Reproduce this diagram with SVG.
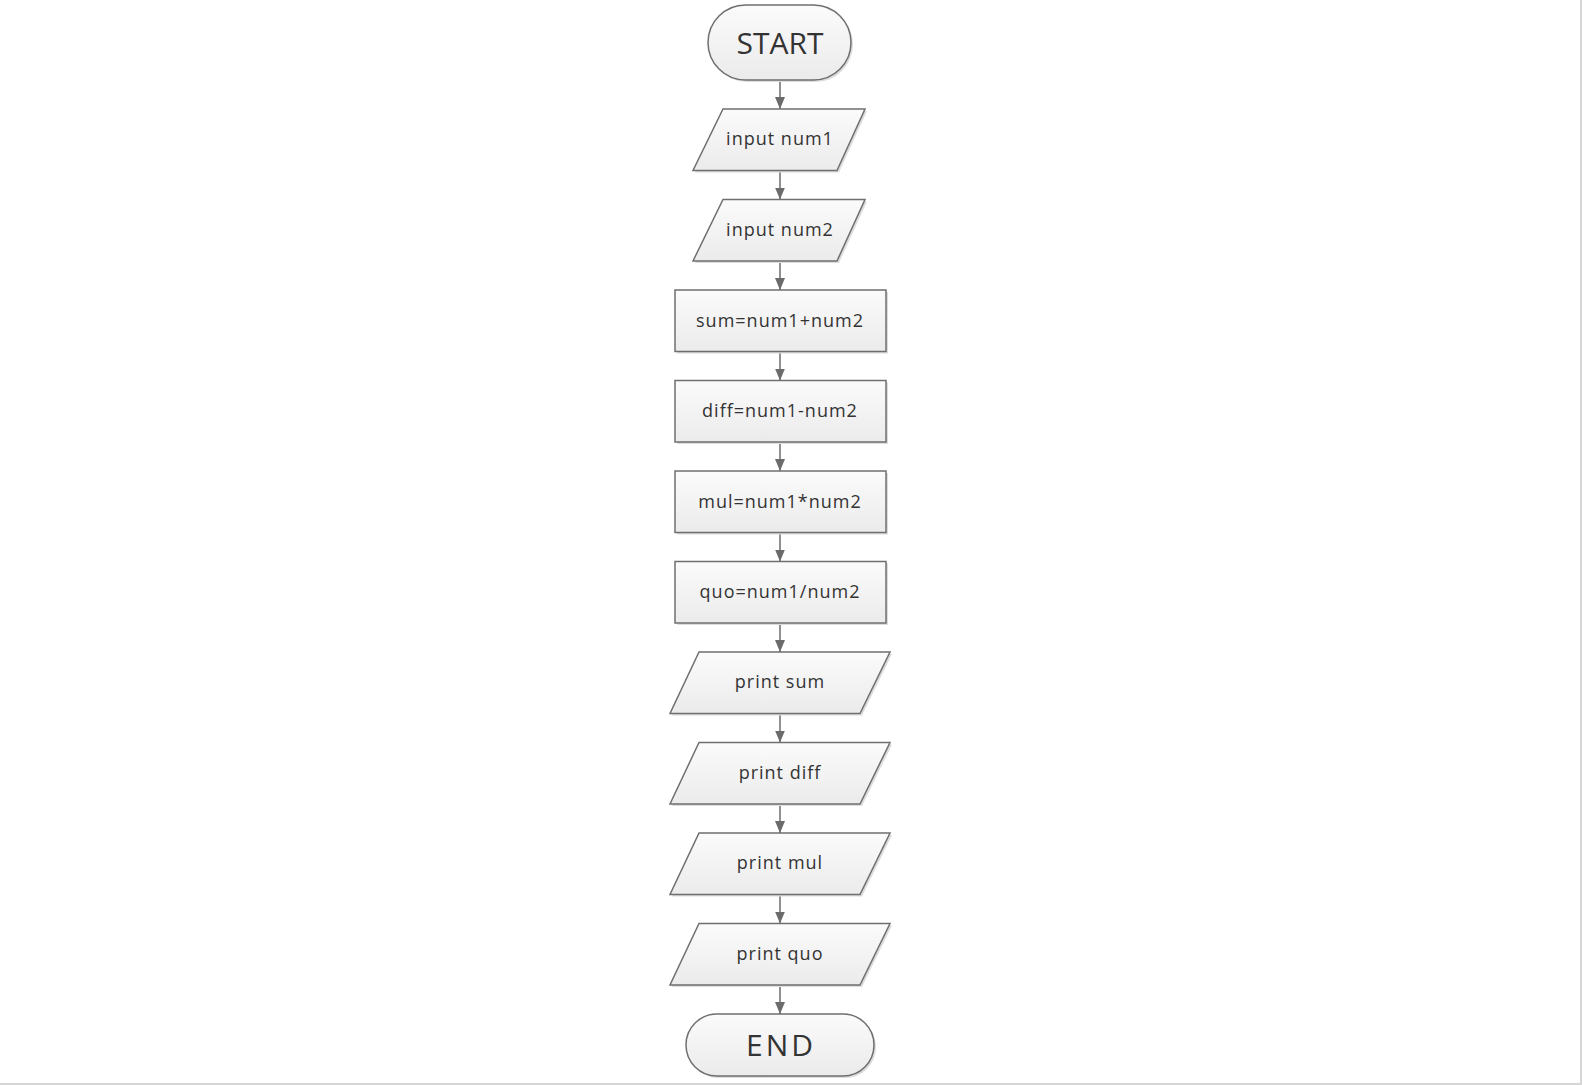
<svg xmlns="http://www.w3.org/2000/svg" width="1582" height="1085" viewBox="0 0 1582 1085">
<defs>
<linearGradient id="g" x1="0" y1="0" x2="0" y2="1">
<stop offset="0" stop-color="#fbfbfb"/>
<stop offset="1" stop-color="#ebebeb"/>
</linearGradient>
<marker id="ah" viewBox="0 0 12 10" refX="12" refY="5" markerWidth="12" markerHeight="10" markerUnits="userSpaceOnUse" orient="auto">
<path d="M0,0 L12,5 L0,10 z" fill="#6b6b6b"/>
</marker>
</defs>
<style>
.s{fill:url(#g);stroke:#6f6f6f;stroke-width:1.5}
.sh{fill:#dcdcdc;stroke:none}
.t{font-family:"Open Sans","DejaVu Sans",sans-serif;font-size:18px;letter-spacing:1px;fill:#333;text-anchor:middle;dominant-baseline:central}
.tb{font-family:"Open Sans","DejaVu Sans",sans-serif;font-size:30px;fill:#333;text-anchor:middle;dominant-baseline:central}
.c{stroke:#6b6b6b;stroke-width:1.5;fill:none;marker-end:url(#ah)}
</style>
<rect x="0" y="0" width="1581" height="1084" fill="#fff"/>
<path d="M1581,0 V1084 H0" fill="none" stroke="#d6d6d6" stroke-width="2"/>
<g id="connectors">
<line class="c" x1="780" y1="80" x2="780" y2="109"/>
<line class="c" x1="780" y1="170.5" x2="780" y2="199.5"/>
<line class="c" x1="780" y1="261" x2="780" y2="290"/>
<line class="c" x1="780" y1="351.5" x2="780" y2="380.5"/>
<line class="c" x1="780" y1="442" x2="780" y2="471"/>
<line class="c" x1="780" y1="532.5" x2="780" y2="561.5"/>
<line class="c" x1="780" y1="623" x2="780" y2="652"/>
<line class="c" x1="780" y1="713.5" x2="780" y2="742.5"/>
<line class="c" x1="780" y1="804" x2="780" y2="833"/>
<line class="c" x1="780" y1="894.5" x2="780" y2="923.5"/>
<line class="c" x1="780" y1="985" x2="780" y2="1014"/>
</g>
<g id="start">
<rect class="sh" x="710" y="7" width="143" height="75" rx="37.5"/>
<rect class="s" x="708" y="5" width="143" height="75" rx="37.5"/>
<text class="tb" x="780" y="42">START</text>
</g>
<g id="input1">
<polygon class="sh" points="725,111 867,111 839,172.5 695,172.5"/>
<polygon class="s" points="723,109 865,109 837,170.5 693,170.5"/>
<text class="t" x="780" y="138">input num1</text>
</g>
<g id="input2">
<polygon class="sh" points="725,201.5 867,201.5 839,263 695,263"/>
<polygon class="s" points="723,199.5 865,199.5 837,261 693,261"/>
<text class="t" x="780" y="229">input num2</text>
</g>
<g id="sum">
<rect class="sh" x="677" y="292" width="211" height="61.5"/>
<rect class="s" x="675" y="290" width="211" height="61.5"/>
<text class="t" x="780" y="320">sum=num1+num2</text>
</g>
<g id="diff">
<rect class="sh" x="677" y="382.5" width="211" height="61.5"/>
<rect class="s" x="675" y="380.5" width="211" height="61.5"/>
<text class="t" x="780" y="410">diff=num1-num2</text>
</g>
<g id="mul">
<rect class="sh" x="677" y="473" width="211" height="61.5"/>
<rect class="s" x="675" y="471" width="211" height="61.5"/>
<text class="t" x="780" y="501">mul=num1*num2</text>
</g>
<g id="quo">
<rect class="sh" x="677" y="563.5" width="211" height="61.5"/>
<rect class="s" x="675" y="561.5" width="211" height="61.5"/>
<text class="t" x="780" y="591">quo=num1/num2</text>
</g>
<g id="psum">
<polygon class="sh" points="701,654 892,654 862,715.5 672,715.5"/>
<polygon class="s" points="699,652 890,652 860,713.5 670,713.5"/>
<text class="t" x="780" y="681">print sum</text>
</g>
<g id="pdiff">
<polygon class="sh" points="701,744.5 892,744.5 862,806 672,806"/>
<polygon class="s" points="699,742.5 890,742.5 860,804 670,804"/>
<text class="t" x="780" y="772">print diff</text>
</g>
<g id="pmul">
<polygon class="sh" points="701,835 892,835 862,896.5 672,896.5"/>
<polygon class="s" points="699,833 890,833 860,894.5 670,894.5"/>
<text class="t" x="780" y="862">print mul</text>
</g>
<g id="pquo">
<polygon class="sh" points="701,925.5 892,925.5 862,987 672,987"/>
<polygon class="s" points="699,923.5 890,923.5 860,985 670,985"/>
<text class="t" x="780" y="953">print quo</text>
</g>
<g id="end">
<rect class="sh" x="688" y="1016" width="188" height="62" rx="31"/>
<rect class="s" x="686" y="1014" width="188" height="62" rx="31"/>
<text class="tb" x="781" y="1044" style="letter-spacing:3px">END</text>
</g>
</svg>
